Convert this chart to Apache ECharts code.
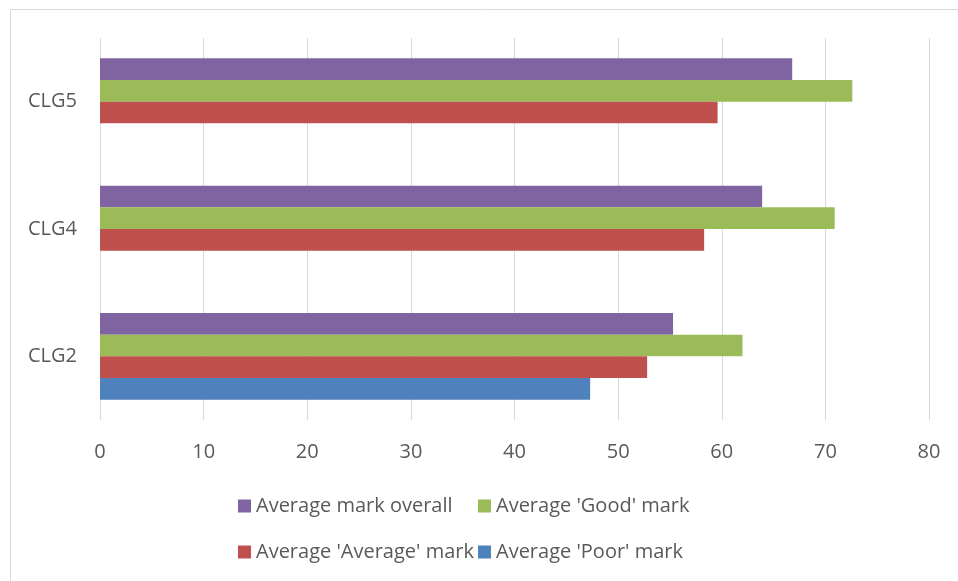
<!DOCTYPE html>
<html>
<head>
<meta charset="utf-8">
<script src="https://cdn.jsdelivr.net/npm/echarts@6/dist/echarts.min.js"></script>
<style>
  html, body { margin: 0; padding: 0; background: #fff; }
  #chart { width: 958px; height: 581px; }
</style>
</head>
<body>
<div id="chart"></div>
<script>
// categories bottom -> top
const categories = ["CLG2", "CLG4", "CLG5"];
const overallMark = [55.3, 63.9, 66.8];
const goodMark = [62.0, 70.9, 72.6];
const averageMark = [52.8, 58.3, 59.6];
const poorMark = [47.3, null, null];
const tickValues = [0, 10, 20, 30, 40, 50, 60, 70, 80];

const chart = echarts.init(document.getElementById("chart"));
const font = "'Open Sans', sans-serif";
const txt = "#595959";

const option = {
  backgroundColor: "#fff",
  textStyle: { fontFamily: font },
  graphic: [{
    type: "rect",
    shape: { x: 10.5, y: 9.5, width: 1000, height: 1000 },
    style: { fill: "none", stroke: "#d9d9d9", lineWidth: 1 },
    silent: true
  }],
  grid: { left: 100, right: 29, top: 38, bottom: 161 },
  legend: [
    {
      orient: "vertical", left: 233, top: 491, itemGap: 26,
      itemWidth: 13, itemHeight: 13, icon: "rect",
      data: ["Average mark overall", "Average 'Average' mark"],
      textStyle: { color: txt, fontSize: 20, lineHeight: 20, fontFamily: font }
    },
    {
      orient: "vertical", left: 473, top: 491, itemGap: 26,
      itemWidth: 13, itemHeight: 13, icon: "rect",
      data: ["Average 'Good' mark", "Average 'Poor' mark"],
      textStyle: { color: txt, fontSize: 20, lineHeight: 20, fontFamily: font }
    }
  ],
  xAxis: {
    type: "value",
    min: tickValues[0],
    max: tickValues[tickValues.length - 1],
    interval: 10,
    axisLine: { show: false },
    axisTick: { show: false },
    splitLine: { show: true, lineStyle: { color: "#d9d9d9", width: 1 } },
    axisLabel: { color: txt, fontSize: 20, margin: 22, fontFamily: font }
  },
  yAxis: {
    type: "category",
    data: categories,
    axisLine: { show: false },
    axisTick: { show: false },
    axisLabel: { color: txt, fontSize: 20, margin: 23, fontFamily: font }
  },
  series: [
    { name: "Average mark overall", type: "bar", data: overallMark,
      itemStyle: { color: "#8064a2" }, barGap: "0%", barCategoryGap: "32%" },
    { name: "Average 'Good' mark", type: "bar", data: goodMark,
      itemStyle: { color: "#9bbb59" } },
    { name: "Average 'Average' mark", type: "bar", data: averageMark,
      itemStyle: { color: "#c0504d" } },
    { name: "Average 'Poor' mark", type: "bar", data: poorMark,
      itemStyle: { color: "#4f81bd" } }
  ]
};

chart.setOption(option);
</script>
</body>
</html>
